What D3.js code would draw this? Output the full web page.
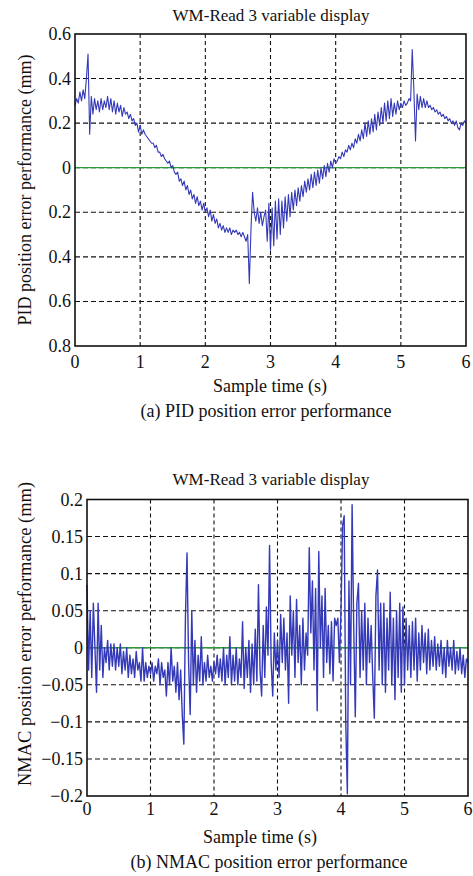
<!DOCTYPE html>
<html><head><meta charset="utf-8">
<script src="https://cdn.jsdelivr.net/npm/d3@7/dist/d3.min.js"></script>
<style>body{margin:0;background:#fff}svg{display:block}text{font-family:"Liberation Serif","Times New Roman",serif;fill:#111}</style>
</head><body>
<script>
// ---- data ----
const dt = 0.025; // sampling step (s)
const xTicks = [0,1,2,3,4,5,6];
const pidYTicks = [0.6,0.4,0.2,0,-0.2,-0.4,-0.6,-0.8];
const pidYTickLabels = ["0.6","0.4","0.2","0","0.2","0.4","0.6","0.8"];
const nmacYTicks = [0.2,0.15,0.1,0.05,0,-0.05,-0.1,-0.15,-0.2];
const nmacYTickLabels = ["0.2","0.15","0.1","0.05","0","\u22120.05","\u22120.1","\u22120.15","\u22120.2"];
const titles = ["WM-Read 3 variable display","WM-Read 3 variable display"];
const xLabel = "Sample time (s)";
const yLabels = ["PID position error performance (mm)","NMAC position error performance (mm)"];
const captions = ["(a) PID position error performance","(b) NMAC position error performance"];

const pidError = [
0.28,0.31,0.29,0.34,0.30,0.35,0.31,0.40,0.51,0.15,
0.32,0.24,0.31,0.26,0.30,0.25,0.31,0.26,0.30,0.27,
0.32,0.26,0.31,0.25,0.30,0.24,0.29,0.25,0.28,0.23,
0.27,0.24,0.25,0.22,0.24,0.21,0.22,0.19,0.20,0.16,
0.19,0.15,0.17,0.15,0.14,0.13,0.12,0.11,0.11,0.09,
0.10,0.07,0.07,0.05,0.06,0.04,0.03,0.02,0.03,0.00,
0.01,-0.02,-0.03,-0.02,-0.06,-0.05,-0.08,-0.06,-0.10,-0.08,
-0.12,-0.10,-0.14,-0.12,-0.16,-0.13,-0.17,-0.15,-0.19,-0.16,
-0.20,-0.18,-0.22,-0.19,-0.24,-0.21,-0.25,-0.23,-0.27,-0.25,
-0.28,-0.26,-0.29,-0.27,-0.29,-0.27,-0.30,-0.28,-0.29,-0.28,
-0.30,-0.29,-0.31,-0.29,-0.31,-0.33,-0.30,-0.52,-0.28,-0.11,
-0.20,-0.24,-0.18,-0.25,-0.20,-0.26,-0.22,-0.19,-0.33,-0.16,
-0.37,-0.18,-0.35,-0.15,-0.32,-0.14,-0.30,-0.15,-0.27,-0.13,
-0.24,-0.12,-0.22,-0.11,-0.19,-0.10,-0.17,-0.09,-0.15,-0.08,
-0.13,-0.06,-0.11,-0.05,-0.10,-0.03,-0.09,-0.02,-0.08,-0.01,
-0.07,0.00,-0.05,0.01,-0.04,0.02,-0.02,0.03,0.00,0.04,
0.02,0.03,0.05,0.04,0.07,0.05,0.08,0.07,0.10,0.08,
0.11,0.09,0.13,0.11,0.15,0.12,0.17,0.13,0.20,0.14,
0.21,0.15,0.22,0.16,0.24,0.17,0.25,0.19,0.27,0.20,
0.29,0.21,0.30,0.22,0.31,0.23,0.29,0.24,0.30,0.26,
0.29,0.27,0.30,0.28,0.29,0.31,0.30,0.53,0.35,0.12,
0.33,0.26,0.32,0.27,0.31,0.27,0.30,0.27,0.28,0.26,
0.27,0.25,0.26,0.24,0.25,0.23,0.24,0.22,0.23,0.21,
0.22,0.20,0.21,0.19,0.21,0.18,0.17,0.20,0.19,0.21,
0.20];

const nmacError = [
0.085,-0.03,0.05,-0.04,0.06,0.0,-0.06,0.06,-0.03,0.03,
-0.04,0.0,-0.02,0.01,-0.03,0.005,-0.025,0.005,-0.03,0.0,
-0.025,0.005,-0.035,-0.005,-0.03,0.0,-0.04,-0.01,-0.035,-0.015,
-0.04,-0.005,-0.03,-0.02,-0.045,0.0,-0.045,-0.02,-0.04,-0.025,
-0.035,-0.02,-0.045,-0.025,-0.035,-0.015,-0.05,-0.02,-0.04,-0.03,
-0.065,-0.02,-0.05,0.0,-0.045,-0.025,-0.06,-0.02,-0.07,-0.03,
-0.09,-0.13,0.04,0.128,-0.02,-0.09,0.05,-0.05,0.01,-0.06,
-0.01,-0.045,0.015,-0.05,-0.02,-0.045,-0.01,-0.04,-0.025,-0.045,
-0.02,-0.035,-0.01,-0.04,-0.015,-0.045,0.0,-0.05,-0.01,-0.04,
0.015,-0.05,-0.01,-0.045,0.0,-0.05,-0.015,-0.04,0.035,-0.055,
0.0,-0.04,0.01,-0.06,0.005,-0.05,0.025,-0.045,0.085,-0.03,
-0.065,0.03,-0.04,0.055,-0.01,0.138,-0.02,-0.065,0.02,-0.03,
0.01,-0.04,0.045,-0.02,0.04,-0.03,0.02,-0.075,0.07,-0.01,
0.05,-0.04,0.065,-0.02,0.03,-0.05,0.04,-0.03,0.02,-0.01,
0.135,0.02,0.09,-0.03,0.08,-0.085,0.13,0.0,0.07,-0.04,
0.08,-0.02,0.03,-0.035,0.035,-0.045,0.04,0.03,0.04,-0.02,
0.05,0.165,0.178,-0.1,-0.197,0.09,-0.05,0.193,0.03,-0.093,
0.06,0.087,-0.04,0.05,-0.03,0.06,-0.05,0.04,-0.02,0.03,
-0.04,-0.095,0.07,0.105,-0.03,0.06,-0.05,0.06,-0.06,0.04,
-0.03,0.075,-0.05,0.04,-0.07,0.05,-0.04,0.06,-0.06,0.055,
-0.05,0.04,-0.03,0.03,-0.04,0.035,-0.03,0.04,-0.045,0.02,
-0.03,0.03,-0.02,0.02,-0.035,0.025,-0.03,0.01,-0.025,0.015,
-0.03,0.005,-0.025,0.01,-0.035,0.0,-0.04,0.01,-0.025,0.0,
-0.03,0.01,-0.035,-0.005,-0.03,0.0,-0.035,-0.01,-0.04,-0.015,
-0.02];

// ---- drawing ----
const W = 473, H = 876;
const svg = d3.select("body").append("svg").attr("width", W).attr("height", H);
const BLUE = "#3439b8", GREEN = "#2f9a3c";

const panels = [
  {values: pidError, yDomain: [-0.8, 0.6], yTicks: pidYTicks, yTickLabels: pidYTickLabels,
   left: 75, right: 466, top: 34, bottom: 346, lw: 1.1,
   titleX: 271, titleY: 21, tickY: 368, xLabX: 270, xLabY: 392, capX: 266, capY: 417, yLabX: 25, yLabY: 190, yLabSize: 18},
  {values: nmacError, yDomain: [-0.2, 0.2], yTicks: nmacYTicks, yTickLabels: nmacYTickLabels,
   left: 87, right: 468, top: 499.5, bottom: 796, lw: 1.4,
   titleX: 271, titleY: 485, tickY: 815, xLabX: 260, xLabY: 843, capX: 269, capY: 868, yLabX: 25, yLabY: 634, yLabSize: 18.5}
];

panels.forEach((p, k) => {
  const x = d3.scaleLinear().domain([0, 6]).range([p.left, p.right]);
  const y = d3.scaleLinear().domain(p.yDomain).range([p.bottom, p.top]);
  const g = svg.append("g");
  const data = p.values.map((v, i) => ({t: i * dt, v}));

  // grid
  g.selectAll(".gx").data(xTicks.slice(1, -1)).join("line")
    .attr("x1", d => x(d)).attr("x2", d => x(d)).attr("y1", p.top).attr("y2", p.bottom)
    .attr("stroke", "#111").attr("stroke-width", 1.1).attr("stroke-dasharray", "4,3");
  g.selectAll(".gy").data(p.yTicks.filter(d => d !== p.yDomain[0] && d !== p.yDomain[1])).join("line")
    .attr("x1", p.left).attr("x2", p.right).attr("y1", d => y(d)).attr("y2", d => y(d))
    .attr("stroke", "#111").attr("stroke-width", 1.1).attr("stroke-dasharray", "5,3");

  // zero reference line
  g.append("line").attr("x1", p.left).attr("x2", p.right).attr("y1", y(0)).attr("y2", y(0))
    .attr("stroke", GREEN).attr("stroke-width", 1.3);

  // data line
  g.append("path").datum(data)
    .attr("d", d3.line().x(d => x(d.t)).y(d => y(d.v)))
    .attr("fill", "none").attr("stroke", BLUE).attr("stroke-width", p.lw)
    .attr("stroke-linejoin", "round");

  // frame
  g.append("rect").attr("x", p.left).attr("y", p.top)
    .attr("width", p.right - p.left).attr("height", p.bottom - p.top)
    .attr("fill", "none").attr("stroke", "#111").attr("stroke-width", 1.6);

  // tick labels
  g.selectAll(".xt").data(xTicks).join("text")
    .attr("x", d => x(d)).attr("y", p.tickY).attr("text-anchor", "middle")
    .attr("font-size", 18).text(d => d);
  g.selectAll(".yt").data(p.yTicks).join("text")
    .attr("x", p.left - 4).attr("y", d => y(d) + 6).attr("text-anchor", "end")
    .attr("font-size", 18).text((d, i) => p.yTickLabels[i]);

  // texts
  g.append("text").attr("x", p.titleX).attr("y", p.titleY).attr("text-anchor", "middle")
    .attr("font-size", 17).text(titles[k]);
  g.append("text").attr("x", p.xLabX).attr("y", p.xLabY).attr("text-anchor", "middle")
    .attr("font-size", 18).text(xLabel);
  g.append("text").attr("x", p.capX).attr("y", p.capY).attr("text-anchor", "middle")
    .attr("font-size", 18).text(captions[k]);
  g.append("text").attr("transform", `translate(${p.yLabX + 6},${p.yLabY}) rotate(-90)`)
    .attr("text-anchor", "middle").attr("font-size", p.yLabSize).text(yLabels[k]);
});
</script>
</body></html>
